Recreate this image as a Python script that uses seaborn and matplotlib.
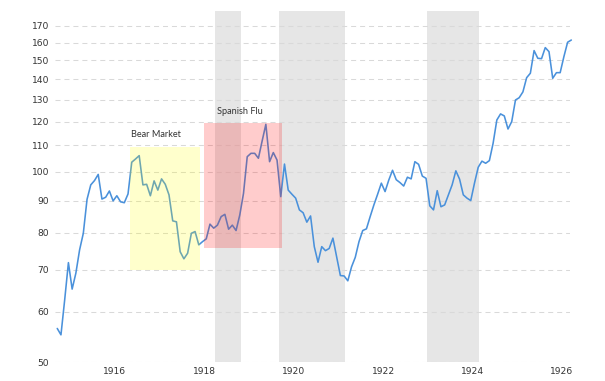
import numpy as np
import pandas as pd
import matplotlib
matplotlib.use("Agg")
import matplotlib.pyplot as plt
import seaborn as sns

# Monthly index values (Dec 1914 onward)
values = [
    56.5, 55.2, 62.7, 71.8, 65.2, 69.1, 75.2, 79.9, 90.4, 95.3,
    96.8, 99.0, 90.5, 91.1, 93.2, 89.9, 91.6, 89.6, 89.3, 92.2,
    103.5, 104.7, 106.0, 95.3, 95.5, 91.6, 96.7, 93.5, 97.4, 95.5,
    91.9, 83.6, 83.3, 74.7, 72.8, 74.3, 79.9, 80.4, 76.6, 77.5,
    78.3, 82.6, 81.4, 82.3, 84.9, 85.6, 81.1, 82.3, 80.7, 85.4,
    92.4, 105.6, 106.9, 106.9, 105.0, 111.8, 118.8, 103.7, 107.2, 104.3,
    91.3, 102.8, 93.5, 92.1, 90.8, 87.0, 86.1, 83.2, 85.1, 76.1,
    71.9, 76.1, 75.0, 75.6, 78.5, 73.3, 68.5, 68.4, 67.2, 70.7,
    73.2, 77.5, 80.7, 81.2, 84.9, 88.6, 92.1, 95.9, 93.0, 97.0,
    100.5, 97.1, 96.1, 94.9, 98.0, 97.4, 103.7, 102.7, 98.4, 97.6,
    88.3, 87.0, 93.3, 88.0, 88.6, 91.9, 95.3, 100.3, 97.3, 91.9,
    90.8, 90.0, 95.9, 101.6, 103.9, 103.1, 104.1, 110.9, 120.7, 123.4,
    122.5, 116.8, 120.0, 129.8, 130.9, 133.7, 140.8, 143.1, 155.4, 151.1,
    150.9, 157.1, 154.8, 140.5, 143.4, 143.4, 152.0, 160.2, 161.5,
]
start_year = 1915.04
years = start_year + np.arange(len(values)) / 12.0

# Recession bands (start, end) in decimal years
recessions = [(1918.58, 1919.16), (1920.0, 1921.48), (1923.31, 1924.47)]
# Highlight boxes: (x0, x1, y0, y1, colour, label, label_x, label_y)
bear_box = (1916.67, 1918.23, 70.0, 109.5)
flu_box = (1918.32, 1920.06, 75.6, 119.5)
bear_label = ("Bear Market", 1917.25, 114.3)
flu_label = ("Spanish Flu", 1919.13, 124.3)

ytick_vals = [50, 60, 70, 80, 90, 100, 110, 120, 130, 140, 150, 160, 170]
xtick_years = [1916, 1918, 1920, 1922, 1924, 1926]

df = pd.DataFrame({"year": years, "value": values})

sns.set_style("white")
fig = plt.figure(figsize=(6.05, 3.81), dpi=100)
ax = fig.add_axes([55 / 605, 19 / 381, 515 / 605, 351 / 381])

for x0, x1 in recessions:
    ax.axvspan(x0, x1, color="#e6e6e6", lw=0, zorder=0)

for v in ytick_vals:
    ax.axhline(v, color="#d9d9d9", lw=0.75, ls=(0, (4.8, 3.8)), zorder=1)

sns.lineplot(data=df, x="year", y="value", ax=ax, color="#4a91db",
             lw=1.15, zorder=2, clip_on=False)

ax.fill_between([bear_box[0], bear_box[1]], bear_box[2], bear_box[3],
                color=(1, 1, 0), alpha=0.2, lw=0, zorder=3)
ax.fill_between([flu_box[0], flu_box[1]], flu_box[2], flu_box[3],
                color=(1, 0, 0), alpha=0.2, lw=0, zorder=3)

for txt, tx, ty in (bear_label, flu_label):
    ax.text(tx, ty, txt, ha="center", va="center", fontsize=6.6,
            family=["Lato", "DejaVu Sans"], color="#333333", zorder=4)

ax.set_yscale("log")
ax.set_ylim(50, 179.5)
ax.set_xlim(1914.99, 1926.51)
ax.set_yticks(ytick_vals)
ax.set_yticklabels([str(v) for v in ytick_vals])
ax.yaxis.set_minor_locator(matplotlib.ticker.NullLocator())
ax.set_xticks([y + 0.33 for y in xtick_years])
ax.set_xticklabels([str(y) for y in xtick_years])
ax.tick_params(axis="both", length=0, labelsize=6.6, labelcolor="#333333")
ax.tick_params(axis="y", pad=4.3)
ax.tick_params(axis="x", pad=3.6)
ax.set_xlabel("")
ax.set_ylabel("")
for s in ax.spines.values():
    s.set_visible(False)
ax.grid(False)

fig.savefig("out.png", dpi=100)
